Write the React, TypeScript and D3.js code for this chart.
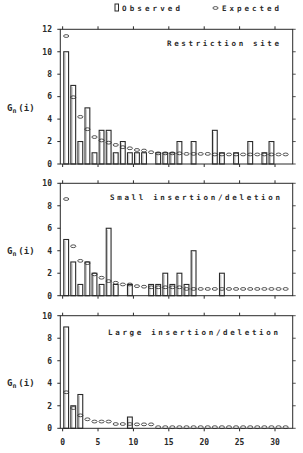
import React from "react";
import * as d3 from "d3";

const positions = d3.range(0, 32);
const restrictionObserved = [10, 7, 2, 5, 1, 3, 3, 1, 2, 1, 1, 1, 0, 1, 1, 1, 2, 0, 2, 0, 0, 3, 1, 0, 1, 0, 2, 0, 1, 2, 0, 0];
const restrictionExpected = [11.4, 5.95, 4.2, 3.1, 2.4, 2.1, 1.9, 1.7, 1.5, 1.4, 1.25, 1.2, 1.05, 0.95, 0.95, 0.95, 0.95, 0.9, 0.9, 0.9, 0.9, 0.85, 0.85, 0.85, 0.85, 0.85, 0.85, 0.85, 0.85, 0.85, 0.85, 0.85];
const smallObserved = [5, 3, 1, 3, 2, 1, 6, 1, 0, 1, 0, 0, 1, 1, 2, 1, 2, 1, 4, 0, 0, 0, 2, 0, 0, 0, 0, 0, 0, 0, 0, 0];
const smallExpected = [8.6, 4.4, 3.1, 2.9, 1.9, 1.6, 1.3, 1.15, 1.0, 1.0, 0.85, 0.8, 0.75, 0.75, 0.75, 0.75, 0.75, 0.6, 0.6, 0.6, 0.6, 0.6, 0.6, 0.6, 0.6, 0.6, 0.6, 0.6, 0.6, 0.6, 0.6, 0.6];
const largeObserved = [9, 2, 3, 0, 0, 0, 0, 0, 0, 1, 0, 0, 0, 0, 0, 0, 0, 0, 0, 0, 0, 0, 0, 0, 0, 0, 0, 0, 0, 0, 0, 0];
const largeExpected = [3.2, 1.8, 1.15, 0.8, 0.6, 0.6, 0.6, 0.38, 0.38, 0.38, 0.35, 0.35, 0.35, 0.1, 0.1, 0.1, 0.1, 0.1, 0.1, 0.1, 0.1, 0.1, 0.1, 0.1, 0.1, 0.1, 0.1, 0.1, 0.1, 0.1, 0.1, 0.1];
const xTicks = [0, 5, 10, 15, 20, 25, 30];
const panelTitles = ["Restriction site", "Small insertion/deletion", "Large insertion/deletion"];
const panelMax = [12, 10, 10];

const INK = "#2a2a2a";
const FONT = "'DejaVu Sans Mono', monospace";

const x = d3.scaleLinear().domain([-0.33, 32.5]).range([60.3, 292.7]);

const panels = [
  { title: panelTitles[0], obs: restrictionObserved, exp: restrictionExpected, max: panelMax[0], y0: 164, y1: 29.3, titleY: 45.5, titleX: [167, 279] },
  { title: panelTitles[1], obs: smallObserved, exp: smallExpected, max: panelMax[1], y0: 295.7, y1: 183.3, titleY: 200, titleX: [110, 280] },
  { title: panelTitles[2], obs: largeObserved, exp: largeExpected, max: panelMax[2], y0: 428.3, y1: 315.7, titleY: 334.5, titleX: [108, 278] },
];

function Panel({ p, last }: { p: any; last: boolean }) {
  const y = d3.scaleLinear().domain([0, p.max]).range([p.y0, p.y1]);
  const yTicks = d3.range(0, p.max + 1, 2);
  const bw = (x(1) - x(0)) * 0.68;
  const [l, r] = x.range();
  return (
    <g>
      {positions.map((i) =>
        p.obs[i] > 0 ? (
          <g key={"b" + i}>
            <rect x={x(i + 0.5) - bw / 2} y={y(p.obs[i])} width={bw} height={y(0) - y(p.obs[i])} fill="#fff" stroke={INK} strokeWidth={1.1} />
            <line x1={x(i + 0.5) - bw / 2 + 1.3} x2={x(i + 0.5) - bw / 2 + 1.3} y1={y(p.obs[i]) + 1.5} y2={y(0)} stroke={INK} strokeWidth={0.5} opacity={0.6} />
          </g>
        ) : null
      )}
      {positions.map((i) => (
        <ellipse key={"e" + i} cx={x(i + 0.5)} cy={y(p.exp[i])} rx={2.6} ry={1.4} fill="none" stroke={INK} strokeWidth={0.8} />
      ))}
      <rect x={l} y={p.y1} width={r - l} height={p.y0 - p.y1} fill="none" stroke={INK} strokeWidth={1} />
      {yTicks.map((t) => (
        <g key={"yl" + t}>
          <line x1={l - 3} x2={l} y1={y(t)} y2={y(t)} stroke={INK} strokeWidth={1} />
          <line x1={r} x2={r + 3} y1={y(t)} y2={y(t)} stroke={INK} strokeWidth={0.8} />
          <text x={52} y={y(t)} dy="0.35em" textAnchor="end" fontFamily={FONT} fontSize={8} fontWeight="bold" fill={INK}>
            {t}
          </text>
        </g>
      ))}
      {xTicks.map((t) => (
        <g key={"xt" + t}>
          <line x1={x(t)} x2={x(t)} y1={p.y1 - 3} y2={p.y1} stroke={INK} strokeWidth={1} />
          <line x1={x(t)} x2={x(t)} y1={p.y0} y2={p.y0 + 3} stroke={INK} strokeWidth={1} />
          {last ? (
            <text x={x(t)} y={p.y0 + 17} textAnchor="middle" fontFamily={FONT} fontSize={8} fontWeight="bold" fill={INK}>
              {t}
            </text>
          ) : null}
        </g>
      ))}
      <text x={p.titleX[0]} y={p.titleY} textLength={p.titleX[1] - p.titleX[0]} lengthAdjust="spacing" fontFamily={FONT} fontSize={7.5} fontWeight="bold" fill={INK}>
        {p.title}
      </text>
      <text x={7} y={(p.y0 + p.y1) / 2 + 14} fontFamily={FONT} fontSize={9} fontWeight="bold" fill={INK}>
        G
        <tspan dy={2} fontSize={6.5}>n</tspan>
        <tspan dy={-2} dx={2}>(i)</tspan>
      </text>
    </g>
  );
}

export default function App() {
  return (
    <svg width={303} height={453} style={{ position: "absolute", left: 0, top: 0, background: "#fff" }}>
      <rect x={0} y={0} width={303} height={453} fill="#fff" />
      <rect x={115} y={4} width={3.5} height={7} fill="#fff" stroke={INK} strokeWidth={1} />
      <text x={122} y={10.5} textLength={58} lengthAdjust="spacing" fontFamily={FONT} fontSize={7.5} fontWeight="bold" fill={INK}>
        Observed
      </text>
      <ellipse cx={215.5} cy={8} rx={2.6} ry={1.4} fill="none" stroke={INK} strokeWidth={0.8} />
      <text x={222} y={10.5} textLength={57} lengthAdjust="spacing" fontFamily={FONT} fontSize={7.5} fontWeight="bold" fill={INK}>
        Expected
      </text>
      {panels.map((p, k) => (
        <Panel key={k} p={p} last={k === panels.length - 1} />
      ))}
    </svg>
  );
}
